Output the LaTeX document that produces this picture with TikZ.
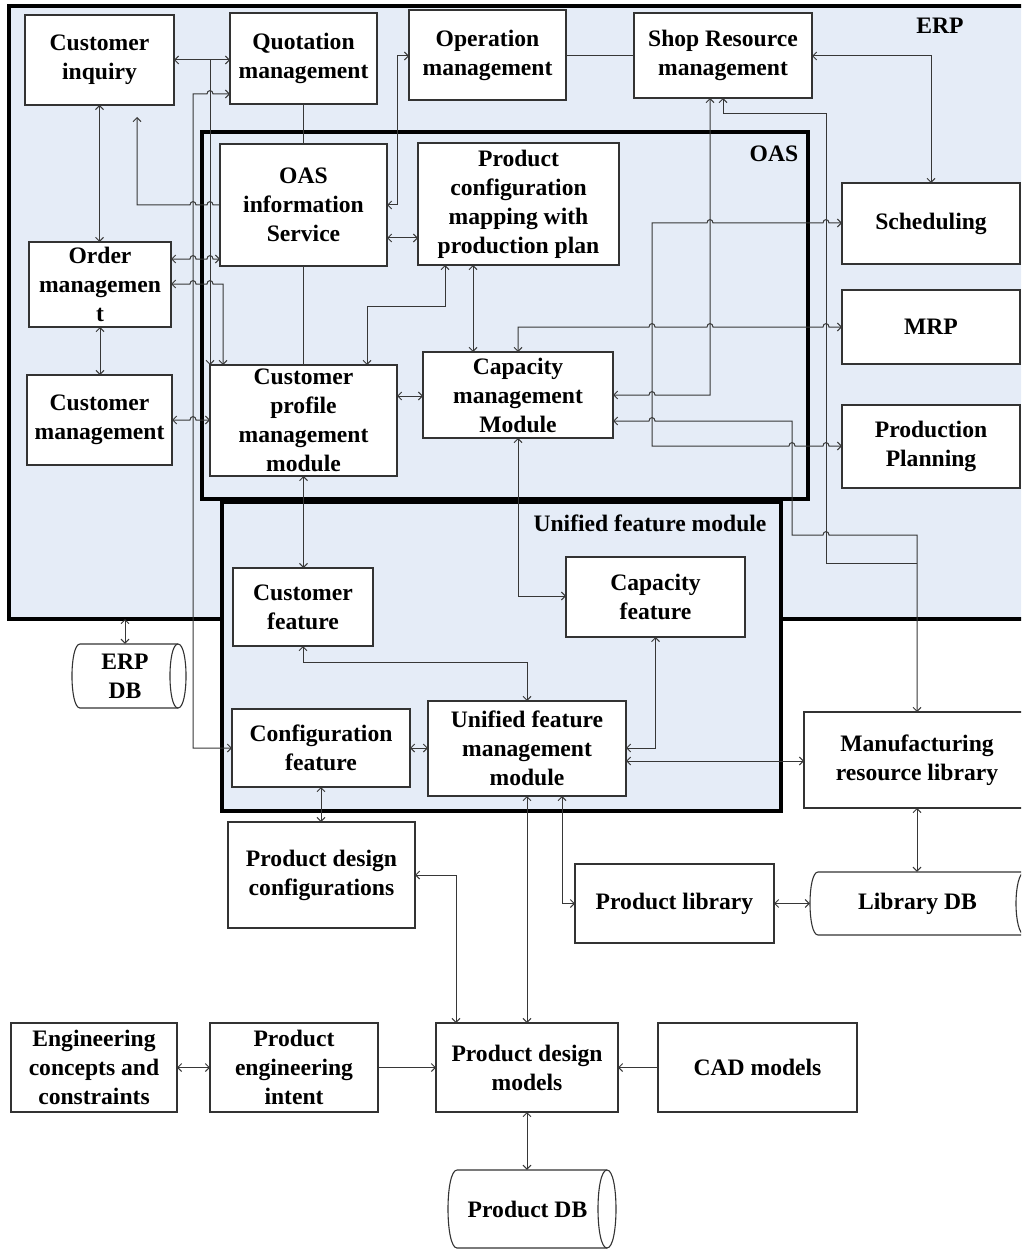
\documentclass[tikz,border=0pt]{standalone}
\usepackage{fontspec}
\setmainfont{Liberation Serif}
\usetikzlibrary{arrows.meta}

\definecolor{zone}{RGB}{229,236,247}
\definecolor{wirec}{RGB}{55,55,55}

% small upward bump where a horizontal line jumps over a vertical one
\newcommand\hopR[2]{-- ({#1-3},#2) .. controls ({#1-3},{#2-4.5}) and ({#1+3},{#2-4.5}) .. ({#1+3},#2)}
\newcommand\hopL[2]{-- ({#1+3},#2) .. controls ({#1+3},{#2-4.5}) and ({#1-3},{#2-4.5}) .. ({#1-3},#2)}

% box from corner (x1,y1) to (x2,y2) with centred text
\newcommand\blk[6]{%
  \node[blk, minimum width={#4-#2}, minimum height={#5-#3}] (#1) at ({(#2+#4)/2},{(#3+#5)/2}) {};
  \node[txt] (#1-t) at (#1.center) {#6};}
% framed module area
\newcommand\zone[5]{%
  \node[zonebox, minimum width={#4-#2}, minimum height={#5-#3}] (#1) at ({(#2+#4)/2},{(#3+#5)/2}) {};}

\begin{document}
\begin{tikzpicture}[x=1pt, y=-1pt,
  blk/.style={draw=black!80, line width=1.2pt, fill=white, inner sep=0pt, outer sep=0pt},
  txt/.style={align=center, inner sep=0pt, font={\fontsize{23.6}{29}\selectfont\bfseries}},
  zonebox/.style={draw=black, line width=3.5pt, fill=zone, inner sep=0pt, outer sep=0pt},
  cyl/.style={draw=black!80, line width=1.1pt, fill=white},
  wire/.style={draw=wirec, line width=1pt},
  >={Straight Barb[length=4pt,width=8pt]}]

\useasboundingbox (0,0) rectangle (1021,1249);
\clip (0,0) rectangle (1021,1249);

% module areas
\zone{erp}{9}{6}{1040}{619}
\zone{oas}{202}{132}{808}{499}
\zone{ufz}{222}{502}{781}{811}
\node[txt] (erp-t) at (940,26) {ERP};
\node[txt] (oas-t) at (774,154) {OAS};
\node[txt] (ufz-t) at (650,523) {Unified feature module};

% blocks
\blk{ci}{25}{15}{174}{105}{Customer\\inquiry}
\blk{qm}{230}{13}{377}{104}{Quotation\\management}
\blk{om}{409}{10}{566}{100}{Operation\\management}
\blk{sr}{634}{13}{812}{98}{Shop Resource\\management}
\blk{ois}{220}{144}{387}{266}{OAS\\information\\Service}
\blk{pcm}{418}{143}{619}{265}{Product\\configuration\\mapping with\\production plan}
\blk{sch}{842}{183}{1020}{264}{Scheduling}
\blk{mrp}{842}{290}{1020}{364}{MRP}
\blk{pp}{842}{405}{1020}{488}{Production\\Planning}
\blk{ordm}{29}{242}{171}{327}{Order\\managemen\\t}
\blk{cm}{27}{375}{172}{465}{Customer\\management}
\blk{cp}{210}{365}{397}{476}{Customer\\profile\\management\\module}
\blk{cap}{423}{352}{613}{438}{Capacity\\management\\Module}
\blk{cf}{233}{568}{373}{646}{Customer\\feature}
\blk{capf}{566}{557}{745}{637}{Capacity\\feature}
\blk{conf}{232}{709}{410}{787}{Configuration\\feature}
\blk{ufm}{428}{701}{626}{796}{Unified feature\\management\\module}
\blk{mrl}{804}{712}{1030}{808}{Manufacturing\\resource library}
\blk{pl}{575}{864}{774}{943}{Product library}
\blk{pdc}{228}{822}{415}{928}{Product design\\configurations}
\blk{ecc}{11}{1023}{177}{1112}{Engineering\\concepts and\\constraints}
\blk{pei}{210}{1023}{378}{1112}{Product\\engineering\\intent}
\blk{pdm}{436}{1023}{618}{1112}{Product design\\models}
\blk{cad}{658}{1023}{857}{1112}{CAD models}

% databases (horizontal cylinders)
\draw[cyl] (80,644) -- (178,644) .. controls (188.7,644) and (188.7,708) .. (178,708)
  -- (80,708) .. controls (69.3,708) and (69.3,644) .. (80,644);
\draw[cyl] (178,644) .. controls (167.3,644) and (167.3,708) .. (178,708);
\node[txt, minimum width=106, minimum height=64] (erpdb) at (125,676) {ERP\\DB};

\draw[cyl] (818,872) -- (1025,872) .. controls (1037,872) and (1037,935) .. (1025,935)
  -- (818,935) .. controls (807.3,935) and (807.3,872) .. (818,872);
\draw[cyl] (1025,872) .. controls (1013,872) and (1013,935) .. (1025,935);
\node[txt, minimum width=215, minimum height=63] (libdb) at (917.5,903.5) {Library DB};

\draw[cyl] (457,1170) -- (607,1170) .. controls (619,1170) and (619,1248) .. (607,1248)
  -- (457,1248) .. controls (445,1248) and (445,1170) .. (457,1170);
\draw[cyl] (607,1170) .. controls (595,1170) and (595,1248) .. (607,1248);
\node[txt, minimum width=159, minimum height=78] (pdb) at (527.5,1209) {Product DB};

% junctions on other connectors
\coordinate (j1) at (210,60);
\coordinate (j2) at (137,117);
\coordinate (j3) at (917,563);

% connectors, ERP side
\draw[wire,<->] (ci.east |- 0,60) -- (qm.west |- 0,60);
\draw[wire,->] (j1) -- (cp.north west);
\draw[wire,<->] (conf.west |- 0,748) -- (193,748) -- (193,94) \hopR{210}{94} -- (qm.west |- 0,94);
\draw[wire,<->] (ci.south) -- (ci.south |- ordm.north);
\draw[wire,<->] (ordm.south) -- (ordm.south |- cm.north);
\draw[wire,<-] (j2) -- (137,205) \hopR{193}{205} \hopR{210}{205} -- (ois.west |- 0,205);
\draw[wire,<->] (ordm.east |- 0,259) \hopR{193}{259} \hopR{210}{259} -- (ois.west |- 0,259);
\draw[wire,<->] (ordm.east |- 0,284) \hopR{193}{284} \hopR{210}{284} -- (223,284) -- (cp.north -| 223,0);
\draw[wire,<->] (cm.east |- 0,420) \hopR{193}{420} -- (cp.west |- 0,420);
\draw[wire] (qm.south) -- (qm.south |- ois.north);
\draw[wire] (ois.south) -- (ois.south |- cp.north);
\draw[wire,<->] (om.west |- 0,56) -- (397,56) -- (397,205) -- (ois.east |- 0,205);
\draw[wire,<->] (ois.east |- 0,238) -- (pcm.west |- 0,238);
\draw[wire] (om.east |- 0,56) -- (sr.west |- 0,56);
\draw[wire,<->] (sr.east |- 0,56) -- (sch.north |- 0,56) -- (sch.north);
\draw[wire,<->] (cap.east |- 0,395) \hopR{652}{395} -- (710,395) -- (sr.south -| 710,0);
\draw[wire,->] (j3) -- (826,563) -- (826,114) -- (723,114) -- (sr.south -| 723,0);
\draw[wire,<->] (cap.east |- 0,421) \hopR{652}{421} -- (792,421) -- (792,535) \hopR{826}{535}
  -- (mrl.north |- 0,535) -- (mrl.north);
\draw[wire,<->] (pcm.south -| 445,0) -- (445,306) -- (367,306) -- (cp.north -| 367,0);
\draw[wire,<->] (pcm.south -| 473,0) -- (cap.north -| 473,0);
\draw[wire,<->] (cap.north) -- (cap.north |- 0,327) \hopR{652}{327} \hopR{710}{327} \hopR{826}{327}
  -- (mrp.west |- 0,327);
\draw[wire,<->] (sch.west |- 0,223) \hopL{826}{223} \hopL{710}{223} -- (652,223) -- (652,446)
  \hopR{792}{446} \hopR{826}{446} -- (pp.west |- 0,446);
\draw[wire,<->] (cp.east |- 0,396) -- (cap.west |- 0,396);
\draw[wire,<->] (erp.south -| erpdb.north) -- (erpdb.north);

% connectors, feature side
\draw[wire,<->] (cap.south) -- (cap.south |- 0,596) -- (capf.west |- 0,596);
\draw[wire,<->] (cp.south) -- (cp.south |- cf.north);
\draw[wire,<->] (cf.south) -- (cf.south |- 0,662) -- (ufm.north |- 0,662) -- (ufm.north);
\draw[wire,<->] (capf.south) -- (capf.south |- 0,748) -- (ufm.east |- 0,748);
\draw[wire,<->] (conf.east |- 0,748) -- (ufm.west |- 0,748);
\draw[wire,<->] (ufm.east |- 0,761) -- (mrl.west |- 0,761);
\draw[wire,<->] (conf.south) -- (conf.south |- pdc.north);
\draw[wire,<->] (pdc.east |- 0,875) -- (456,875) -- (pdm.north -| 456,0);
\draw[wire,<->] (ufm.south) -- (ufm.south |- pdm.north);
\draw[wire,<->] (ufm.south -| 562,0) -- (562,903.5) -- (pl.west);
\draw[wire,<->] (pl.east) -- (libdb.west);
\draw[wire,<->] (mrl.south) -- (mrl.south |- libdb.north);

% design side
\draw[wire,<->] (ecc.east) -- (pei.west);
\draw[wire,->] (pei.east) -- (pdm.west);
\draw[wire,->] (cad.west) -- (pdm.east);
\draw[wire,<->] (pdm.south) -- (pdm.south |- pdb.north);

\end{tikzpicture}
\end{document}
